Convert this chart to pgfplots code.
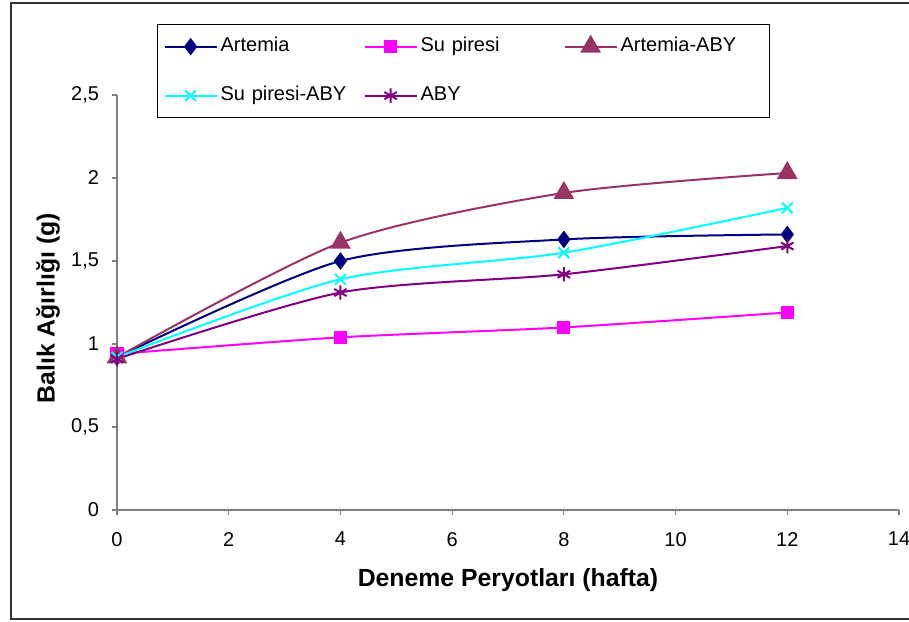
\documentclass[border=0pt]{standalone}
\usepackage{pgfplots}
\pgfplotsset{compat=1.18}
\usepackage{fontspec}
\setmainfont{Liberation Sans}

\definecolor{cArt}{RGB}{0,0,128}
\definecolor{cSu}{RGB}{255,0,255}
\definecolor{cArtA}{RGB}{153,51,102}
\definecolor{cSuA}{RGB}{0,255,255}
\definecolor{cABY}{RGB}{128,0,128}

\begin{document}
\begin{tikzpicture}
\useasboundingbox (-58.5pt,-55.5pt) rectangle (396pt,255pt);
\begin{axis}[
  scale only axis,
  width=391pt, height=207.5pt,
  xmin=0, xmax=14, ymin=0, ymax=2.5,
  xtick={0,2,...,14}, ytick={0,0.5,...,2.5},
  axis lines=left,
  axis line style={-, draw=gray, line width=0.6pt},
  tick style={draw=gray, line width=0.6pt},
  tick align=outside, major tick length=2.5pt,
  /pgf/number format/.cd, use comma, fixed, assume math mode=true, /pgfplots/.cd,
  tick label style={font=\fontsize{10}{12}\selectfont},
  xticklabel style={yshift=-5pt},
  yticklabel style={xshift=-3pt},
  xlabel={Deneme Peryotları (hafta)},
  ylabel={Balık Ağırlığı (g)},
  label style={font=\bfseries\fontsize{12.4}{14}\selectfont},
  xlabel style={at={(axis description cs:0.5,-0.169)}, anchor=center},
  ylabel style={at={(axis description cs:-0.0882,0.486)}, anchor=center},
  clip=false,
  every axis plot/.append style={smooth, tension=0.45, line width=1pt},
  legend columns=3,
  legend style={at={(axis description cs:0.0512,1.171)}, anchor=north west,
    draw=black, line width=0.6pt, inner xsep=3pt, inner ysep=4.5pt,
    font=\fontsize{10}{12}\selectfont,
    nodes={inner sep=1.5pt, text height=7.5pt, text depth=2.5pt},
    row sep=11.5pt, column sep=0pt},
  legend cell align=left,
  /tikz/every even column/.append style={text width=70pt},
  /tikz/column 6/.append style={text width=59pt},
  legend image code/.code={\draw[#1, mark repeat=2, mark phase=2]
    plot coordinates {(0pt,0pt) (13pt,0pt) (26pt,0pt)};},
]
\addplot[cArt, mark=diamond*, mark size=3.6pt, mark options={fill=cArt}]
  coordinates {(0,0.92) (4,1.50) (8,1.63) (12,1.66)};
\addlegendentry{Artemia}
\addplot[cSu, mark=square*, mark size=2.8pt, mark options={fill=cSu}]
  coordinates {(0,0.94) (4,1.04) (8,1.10) (12,1.19)};
\addlegendentry{Su piresi}
\addplot[cArtA, mark=triangle*, mark size=5pt, mark options={fill=cArtA}]
  coordinates {(0,0.92) (4,1.61) (8,1.91) (12,2.03)};
\addlegendentry{Artemia-ABY}
\addplot[cSuA, mark=x, mark size=3.8pt]
  coordinates {(0,0.92) (4,1.39) (8,1.55) (12,1.82)};
\addlegendentry{Su piresi-ABY}
\addplot[cABY, mark=asterisk, mark size=3.6pt]
  coordinates {(0,0.91) (4,1.31) (8,1.42) (12,1.59)};
\addlegendentry{ABY}
\end{axis}
\draw[black!80, line width=0.75pt] (-53pt,253.5pt) rectangle (399pt,-54.5pt);
\end{tikzpicture}
\end{document}
